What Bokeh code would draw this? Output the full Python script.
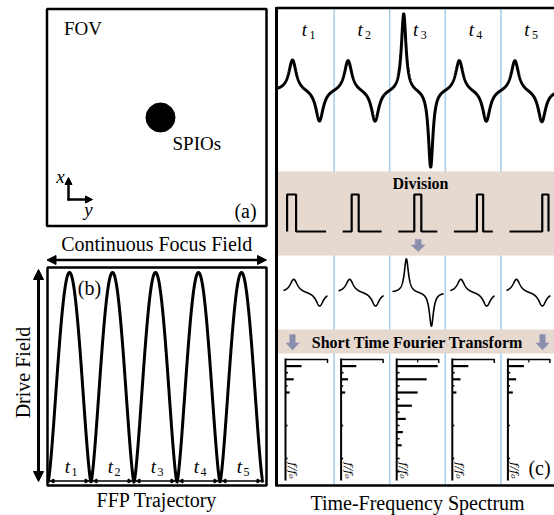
import numpy as np
from bokeh.plotting import figure
from bokeh.models import Range1d, Arrow, NormalHead
from bokeh.core.properties import value
from bokeh.embed import file_html
from bokeh.resources import INLINE

# ---------------- data ----------------
slot_names = ["1", "2", "3", "4", "5"]
# MPI signal per time slot (relative amplitudes, phase within slot)
sig_up_amp = [0.40, 0.40, 1.00, 0.40, 0.40]
sig_dn_amp = [0.41, 0.41, 1.00, 0.41, 0.41]
sig_peak_phase = [0.252, 0.252, 0.252, 0.252, 0.252]
sig_trough_phase = [0.737, 0.737, 0.737, 0.737, 0.737]
sig_width = [0.081, 0.081, 0.050, 0.081, 0.081]
# divided signals
seg_peak_phase = [0.275, 0.28, 0.30, 0.28, 0.28]
seg_trough_phase = [0.74, 0.745, 0.75, 0.745, 0.745]
seg_start_phase = [0.09, 0.08, 0.05, 0.09, 0.10]
seg_end_phase = [0.88, 0.89, 0.97, 0.885, 0.89]
seg_width = [0.081, 0.081, 0.045, 0.081, 0.081]
# window functions: pulse start within window (fraction) and pulse width
win_pulse_start = [0.0, 0.23, 0.41, 0.59, 0.84]
win_pulse_width = [0.23, 0.18, 0.18, 0.16, 0.16]
# spectra magnitudes (relative, 100 = max) for harmonic index 1..17
spec_1 = [39, 6, 20, 5, 10, 0, 0, 0, 0, 5, 0, 0, 0, 0, 5, 0, 0]
spec_2 = [37, 6, 17, 5, 10, 0, 0, 0, 0, 5, 0, 0, 0, 0, 5, 0, 0]
spec_3 = [100, 7, 73, 7, 51, 7, 37, 7, 22, 7, 15, 7, 12, 0, 7, 0, 7]
spec_4 = [39, 6, 20, 5, 10, 0, 0, 0, 0, 5, 0, 0, 0, 0, 5, 0, 0]
spec_5 = [39, 6, 20, 5, 12, 0, 0, 0, 0, 5, 0, 0, 0, 0, 5, 0, 0]
spectra = [spec_1, spec_2, spec_3, spec_4, spec_5]
spec_mid_tick = [False, False, True, False, True]
# FFP trajectory: 5 half periods, shape exponent
ffp_periods = 5
ffp_shape = 1.4

# ---------------- layout ----------------
SERIF = value("Liberation Serif")
BAND = "#e6d9d0"
ARROWC = "#8a8fae"
SEP = "#a6cce6"

p = figure(width=554, height=515, x_range=Range1d(0, 554), y_range=Range1d(515, 0),
           output_backend="svg", toolbar_location=None, min_border=0)
p.axis.visible = False
p.grid.visible = False
p.outline_line_color = None
p.background_fill_color = "white"


def txt(x, y, s, size, style="normal", align="center", angle=0.0, font=SERIF, base="middle"):
    p.text(x=[x], y=[y], text=[s], text_font=font, text_font_size=value(size),
           text_font_style=style, text_align=align, text_baseline=base, angle=angle,
           text_color="black")


def arrow(x0, y0, x1, y1, lw, size, both=True):
    end = NormalHead(size=size, fill_color="black", line_color="black", line_width=1)
    start = NormalHead(size=size, fill_color="black", line_color="black", line_width=1) if both else None
    p.add_layout(Arrow(start=start, end=end, x_start=x0, y_start=y0, x_end=x1, y_end=y1,
                       line_width=lw, line_color="black"))


def block_arrow(xc, y0, y1, shaft=3.0, head=7.0, head_len=6.5):
    ym = y1 - head_len
    xs = [xc - shaft, xc + shaft, xc + shaft, xc + head, xc, xc - head, xc - shaft]
    ys = [y0, y0, ym, ym, y1, ym, ym]
    p.patch(xs, ys, fill_color=ARROWC, line_color=ARROWC, line_width=0.5)


# ---------- panel (a) ----------
AL, AR, AT, AB = 46.5, 266.0, 8.5, 225.5
p.quad(left=[AL], right=[AR], top=[AT], bottom=[AB], fill_color=None, line_color="black", line_width=2.5)
txt(AL + 17, 28, "FOV", "19px", align="left")
p.scatter(x=[160], y=[117], size=29, marker="circle", fill_color="black", line_color="black")
txt(172, 143, "SPIOs", "19px", align="left")
arrow(68, 200, 68, 177, 2.5, 7, both=False)
arrow(67, 199, 92, 199, 2.5, 7, both=False)
txt(60, 176, "x", "19px", style="italic")
txt(88, 209, "y", "19px", style="italic")
txt(AR - 21, 210, "(a)", "20px")

# Continuous Focus Field
txt((AL + AR) / 2, 243, "Continuous Focus Field", "20px")
arrow(AL, 259.5, AR, 259.5, 2.5, 9)

# ---------- panel (b) ----------
BL, BR, BT, BB = 47.0, 266.0, 267.0, 485.0
p.quad(left=[BL], right=[BR], top=[BT], bottom=[BB], fill_color=None, line_color="black", line_width=2.5)
arrow(38, 269, 38, 481, 3, 10)
txt(22, 372, "Drive Field", "20px", angle=np.pi / 2)
x0b, x1b = 47.5, 262.5
half = (x1b - x0b) / ffp_periods
xb = np.linspace(x0b, x1b, 1500)
yb = 482 - (482 - 272) * np.abs(np.sin(np.pi * (xb - x0b) / half)) ** ffp_shape
p.line(xb, yb, line_color="black", line_width=3)
txt(89, 287, "(b)", "20px")
for i, nm in enumerate(slot_names):
    xa = x0b + half * i
    xe = xa + half
    arrow(xa + 2, 480.5, xe - 2, 480.5, 1.3, 4)
    xc = xa + half / 2
    txt(xc - 2, 466, "t", "19px", style="italic")
    txt(xc + 5, 471, nm, "12px")
txt((BL + BR) / 2, 499, "FFP Trajectory", "20px")

# ---------- panel (c) ----------
CL, CT, CB, CR = 276.0, 7.5, 485.0, 558.0
S0, SW = 278.0, 55.6
# separators
for i in range(1, 5):
    xs = S0 + SW * i
    p.segment(x0=[xs], y0=[CT], x1=[xs], y1=[CB], line_color=SEP, line_width=1.5)

# top signal
BASE_T, AMP_T = 90.0, 78.0
xt = np.linspace(CL, CR, 3000)
yt = np.full_like(xt, BASE_T)
for i in range(5):
    w = sig_width[i] * SW
    cp = S0 + SW * (i + sig_peak_phase[i])
    ct = S0 + SW * (i + sig_trough_phase[i])
    yt -= AMP_T * sig_up_amp[i] / (1 + ((xt - cp) / w) ** 2)
    yt += AMP_T * sig_dn_amp[i] / (1 + ((xt - ct) / w) ** 2)
p.line(xt, yt, line_color="black", line_width=3)
for i, nm in enumerate(slot_names):
    xc = S0 + SW * i + 29
    txt(xc - 3, 29, "t", "19px", style="italic")
    txt(xc + 5, 34, nm, "12px")

# division band
p.quad(left=[CL + 1.5], right=[CR], top=[171], bottom=[255], fill_color=BAND, line_color=None)
txt(420, 183, "Division", "16px", style="bold")
WB, WT = 231.0, 194.0
for i in range(5):
    w0 = S0 + SW * i + 8.6
    ww = 39.0
    r = w0 + ww * win_pulse_start[i]
    f = min(r + ww * win_pulse_width[i], w0 + ww)
    xs = [w0, r, r, f, f, w0 + ww]
    ys = [WB, WB, WT, WT, WB, WB]
    p.line(xs, ys, line_color="black", line_width=2.2)
block_arrow(S0 + SW * 2 + 28.5, 239, 251)

# divided signals
BASE_M, AMP_M = 292.0, 34.0
for i in range(5):
    xs = np.linspace(S0 + SW * (i + seg_start_phase[i]), S0 + SW * (i + seg_end_phase[i]), 400)
    w = seg_width[i] * SW
    cp = S0 + SW * (i + seg_peak_phase[i])
    ct = S0 + SW * (i + seg_trough_phase[i])
    ys = BASE_M - AMP_M * sig_up_amp[i] / (1 + ((xs - cp) / w) ** 2) \
        + AMP_M * sig_dn_amp[i] / (1 + ((xs - ct) / w) ** 2)
    p.line(xs, ys, line_color="black", line_width=1.6)

# STFT band
p.quad(left=[CL + 1.5], right=[CR], top=[329], bottom=[353], fill_color=BAND, line_color=None)
txt(417, 342, "Short Time Fourier Transform", "16px", style="bold")
block_arrow(S0 + 14, 334, 349.5, shaft=2.7, head=6.5, head_len=7)
block_arrow(S0 + SW * 4 + 41.6, 334, 349.5, shaft=2.7, head=6.5, head_len=7)

# spectra
SP_TOP, SP_BOT, SP_STEP, SP_LEN = 359.0, 480.0, 6.6, 41.0
for i in range(5):
    ax = S0 + SW * i + 7.0
    p.segment(x0=[ax], y0=[SP_TOP - 1], x1=[ax], y1=[SP_BOT], line_color="black", line_width=2)
    p.segment(x0=[ax], y0=[SP_TOP], x1=[ax + 42], y1=[SP_TOP], line_color="black", line_width=1.5)
    p.segment(x0=[ax + 42], y0=[SP_TOP - 0.5], x1=[ax + 42], y1=[SP_TOP + 3.5], line_color="black", line_width=1.5)
    if spec_mid_tick[i]:
        p.segment(x0=[ax + 21], y0=[SP_TOP - 0.5], x1=[ax + 21], y1=[SP_TOP + 3], line_color="black", line_width=1.2)
    ks = np.arange(1, len(spectra[i]) + 1)
    mags = np.array(spectra[i], dtype=float)
    keep = mags > 0
    yk = SP_TOP + SP_STEP * ks[keep]
    xk = ax + SP_LEN * mags[keep] / 100.0
    lw = np.where(mags[keep] > 8, 2.2, 1.6)
    p.segment(x0=np.full(keep.sum(), ax), y0=yk, x1=xk, y1=yk, line_color="black", line_width=lw)
    txt(ax + 7, 470, "f/f\u2080", "11px", style="italic", angle=-np.pi / 2, font=value("DejaVu Serif"))
txt(539, 467, "(c)", "20px")

# frame of (c)
p.segment(x0=[CL], y0=[CT], x1=[CR], y1=[CT], line_color="black", line_width=2.5)
p.segment(x0=[CL], y0=[CB], x1=[CR], y1=[CB], line_color="black", line_width=2.5)
p.segment(x0=[CL], y0=[CT - 1], x1=[CL], y1=[CB + 1], line_color="black", line_width=3)
txt(417, 502, "Time-Frequency Spectrum", "20px")

open("out.html", "w").write(file_html(p, INLINE))
